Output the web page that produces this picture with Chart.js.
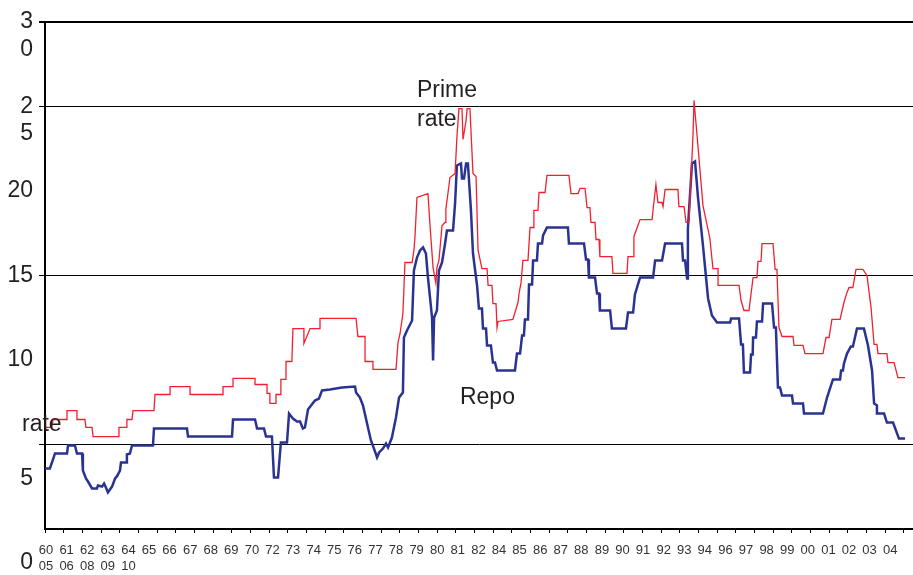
<!DOCTYPE html>
<html lang="en">
<head>
<meta charset="UTF-8">
<title>Prime rate and Repo rate</title>
<script src="https://cdn.jsdelivr.net/npm/chart.js"></script>
<style>
  body { margin: 0; background: #fff; }
  #wrap { width: 913px; height: 575px; }
</style>
</head>
<body>
<div id="wrap"><canvas id="rateChart"></canvas></div>
<script>
// x tick labels as printed under the axis (second row only under the first five)
const yearLabels = ['60','61','62','63','64','65','66','67','68','69','70','72','73','74','75','76','77','78','79','80','81',
                    '82','84','85','86','87','88','89','90','91','92','93','94','96','97','98','99','00','01','02','03','04'];
const yearLabels2 = ['05','06','08','09','10'];

// prime rate (x in label steps, y in %)
const primeX = [
  -0.49,-0.15,-0.10,0.59,0.59,1.08,1.08,1.47,1.52,1.82,
  1.87,3.14,3.14,3.49,3.53,3.78,3.83,4.86,4.91,5.65,
  5.65,6.63,6.63,8.25,8.25,8.74,8.74,9.82,9.82,10.41,
  10.41,10.55,10.55,10.85,10.85,11.09,11.09,11.34,11.34,11.63,
  11.68,12.22,12.22,12.52,13.01,13.01,14.78,14.87,15.22,15.22,
  15.61,15.61,16.74,16.84,16.94,17.08,17.18,17.53,17.62,17.67,
  17.77,18.31,18.41,18.56,18.70,18.75,18.85,19.00,19.15,19.19,
  19.29,19.39,19.64,19.73,19.83,19.98,20.03,20.18,20.23,20.37,
  20.52,20.67,20.77,20.96,21.21,21.26,21.45,21.50,21.65,21.70,
  21.75,22.48,22.58,22.73,22.78,22.88,22.97,23.22,23.32,23.47,
  23.51,23.71,23.76,24.06,24.15,25.23,25.33,25.68,25.77,26.02,
  26.12,26.26,26.31,26.51,26.56,26.71,26.75,27.34,27.39,28.08,
  28.13,28.38,28.42,28.72,29.31,29.40,29.50,29.60,29.80,29.85,
  29.95,30.58,30.63,30.88,30.98,31.12,31.32,31.37,31.52,31.81,
  32.15,32.30,32.55,32.55,33.58,33.68,33.82,34.07,34.17,34.27,
  34.46,34.51,34.66,34.71,35.25,35.35,35.44,35.54,35.69,36.23,
  36.28,36.72,36.82,37.70,37.85,38.00,38.14,38.54,38.64,38.73,
  38.88,38.98,39.17,39.32,39.66,39.86,40.06,40.21,40.35,40.40,
  40.84,40.89,41.19,41.38,41.73
];
const primeY = [
  6.01,6.01,6.48,6.48,7.01,7.01,6.48,6.48,6.01,6.01,
  5.47,5.47,6.01,6.01,6.48,6.48,7.01,7.01,7.96,7.96,
  8.43,8.43,7.96,7.96,8.43,8.43,8.91,8.91,8.55,8.55,
  8.02,8.02,7.43,7.43,7.96,7.96,8.85,8.85,9.91,9.91,
  11.86,11.86,10.98,11.86,11.86,12.46,12.46,11.39,11.39,9.91,
  9.91,9.44,9.44,11.04,11.57,12.75,15.77,15.77,16.48,17.25,
  19.62,19.85,17.96,15.47,14.53,15.47,15.89,17.96,18.14,18.96,
  19.85,20.80,21.04,23.17,24.88,24.88,23.05,24.17,24.88,24.88,
  21.04,20.86,16.48,15.41,15.41,14.41,14.41,13.34,13.34,11.92,
  12.28,12.40,12.81,13.40,13.93,14.59,15.89,15.89,17.84,17.84,
  18.85,18.85,19.91,19.91,20.92,20.92,19.85,19.85,20.15,20.15,
  19.02,19.02,18.14,18.14,17.13,17.13,16.12,16.12,15.12,15.12,
  16.12,16.12,17.31,18.31,18.31,19.32,20.38,19.32,19.32,19.08,
  20.09,20.09,19.08,19.08,18.14,18.14,23.28,25.36,23.28,19.14,
  17.19,15.41,15.41,14.41,14.41,13.52,12.93,12.93,13.93,14.88,
  14.88,15.83,15.83,16.89,16.89,15.36,15.36,11.92,11.39,11.39,
  10.86,10.86,10.38,10.38,11.33,11.33,12.40,12.40,12.93,13.40,
  14.00,14.29,14.29,15.36,15.36,15.00,13.11,10.92,10.92,10.38,
  10.38,9.85,9.85,8.96,8.96
];

// repo rate
const repoX = [
  -0.49,-0.25,-0.10,0,0.59,0.64,0.98,1.08,1.33,1.37,
  1.52,1.62,1.82,2.06,2.11,2.31,2.41,2.50,2.60,2.80,
  2.95,3.04,3.19,3.24,3.49,3.53,3.68,3.78,4.81,4.86,
  6.48,6.53,8.69,8.74,9.82,9.92,10.26,10.36,10.65,10.75,
  10.95,11.09,11.39,11.49,11.68,11.88,12.03,12.17,12.27,12.42,
  12.76,12.96,13.11,13.50,14.09,14.73,14.78,14.97,15.12,15.32,
  15.51,15.66,15.81,15.91,16.10,16.25,16.35,16.54,16.74,16.89,
  17.08,17.13,17.28,17.53,17.62,17.77,17.92,18.07,18.21,18.31,
  18.41,18.51,18.56,18.61,18.75,18.85,19.00,19.15,19.24,19.54,
  19.64,19.73,19.93,19.98,20.08,20.18,20.27,20.42,20.52,20.72,
  20.81,20.96,21.01,21.16,21.21,21.40,21.50,21.60,21.70,22.58,
  22.68,22.83,22.93,23.02,23.07,23.22,23.27,23.42,23.47,23.66,
  23.71,23.91,23.96,24.15,25.18,25.23,25.97,26.07,26.17,26.21,
  26.51,26.61,26.71,26.75,27.25,27.34,28.03,28.13,28.38,28.47,
  28.72,29.36,29.46,29.80,29.95,30.78,30.83,30.93,31.03,31.07,
  31.27,31.42,31.57,31.81,32.06,32.25,32.50,33.14,33.19,33.58,
  33.68,33.77,33.82,34.12,34.17,34.25,34.27,34.41,34.46,34.71,
  34.76,35.20,35.30,35.39,35.49,35.59,35.69,36.18,36.23,36.72,
  36.77,37.70,37.90,38.19,38.54,38.59,38.68,38.73,38.88,39.07,
  39.17,39.37,39.71,39.91,40.11,40.21,40.35,40.35,40.70,40.84,
  41.14,41.43,41.73
];
const repoY = [
  3.58,3.58,4.11,4.47,4.47,4.94,4.94,4.47,4.47,3.46,
  2.99,2.81,2.40,2.40,2.57,2.51,2.69,2.46,2.16,2.51,
  2.99,3.11,3.46,3.93,3.93,4.41,4.47,4.94,4.94,5.95,
  5.95,5.47,5.47,6.48,6.48,5.95,5.95,5.47,5.47,3.05,
  3.05,5.12,5.12,6.83,6.54,6.36,6.36,5.95,6.01,7.07,
  7.60,7.72,8.20,8.25,8.37,8.43,8.08,7.78,7.31,6.24,
  5.24,4.76,4.23,4.53,4.76,5.06,4.82,5.41,6.60,7.78,
  8.08,11.33,11.75,12.34,15.30,16.06,16.48,16.66,16.30,14.88,
  13.70,12.51,9.97,12.51,12.93,15.30,15.77,16.89,17.66,17.66,
  19.26,21.51,21.63,20.74,20.74,21.63,21.63,18.85,16.30,14.41,
  13.05,13.05,11.86,11.86,10.86,10.86,9.85,9.85,9.38,9.38,
  10.38,10.38,11.45,11.45,12.40,12.40,14.47,14.47,15.89,15.89,
  16.89,16.89,17.37,17.84,17.84,16.89,16.89,15.95,15.95,14.88,
  14.88,13.93,13.93,12.93,12.93,11.86,11.86,12.81,12.81,13.88,
  14.88,14.88,15.89,15.89,16.89,16.89,15.89,15.89,14.82,17.78,
  21.63,21.75,19.56,16.77,13.64,12.63,12.22,12.22,12.46,12.46,
  10.92,10.92,9.26,9.26,10.33,10.33,11.33,11.33,12.28,12.28,
  13.34,13.34,11.92,11.92,8.37,8.37,7.90,7.90,7.43,7.43,
  6.83,6.83,7.78,8.85,8.85,9.38,9.38,9.79,10.38,10.80,
  10.80,11.86,11.86,10.86,9.38,7.43,7.31,6.83,6.83,6.30,
  6.30,5.35,5.35
];

const yTicks = [0, 5, 10, 15, 20, 25, 30];
const gridValues = [5, 15, 25, 30];   // only these get a horizontal line

const FONT = "'Liberation Sans', Arial, sans-serif";

const notesPlugin = {
    id: 'notes',
    afterDraw(chart, args, opts) {
        const { ctx, scales: { x, y } } = chart;
        ctx.save();
        ctx.font = '23px ' + FONT;
        ctx.fillStyle = '#231f20';
        ctx.textBaseline = 'middle';
        ctx.textAlign = 'left';
        opts.items.forEach(n => {
            ctx.fillText(n.text, x.getPixelForValue(n.x), y.getPixelForValue(n.y));
        });
        ctx.restore();
    }
};

new Chart(document.getElementById('rateChart'), {
    type: 'line',
    data: {
        datasets: [
            {
                label: 'Prime rate',
                data: primeX.map((x, i) => ({ x: x, y: primeY[i] })),
                borderColor: '#f2202e',
                borderWidth: 1.3,
                pointRadius: 0,
                tension: 0,
                xAxisID: 'x',
                yAxisID: 'y'
            },
            {
                label: 'Repo rate',
                data: repoX.map((x, i) => ({ x: x, y: repoY[i] })),
                borderColor: '#2a3392',
                borderWidth: 2.5,
                pointRadius: 0,
                tension: 0,
                xAxisID: 'x',
                yAxisID: 'y'
            }
        ]
    },
    options: {
        responsive: true,
        maintainAspectRatio: false,
        animation: false,
        layout: { padding: { left: 0, top: 22, right: 0, bottom: 0 } },
        plugins: {
            legend: { display: false },
            tooltip: { enabled: false },
            notes: {
                items: [
                    { text: 'Prime', x: 17.77, y: 25.95 },
                    { text: 'rate', x: 17.77, y: 24.2 },
                    { text: 'Repo', x: 19.88, y: 7.78 },
                    { text: 'rate', x: -1.62, y: 6.15 }
                ]
            }
        },
        scales: {
            x: { type: 'linear', display: false, min: -0.49, max: 42.12 },
            xt: {
                type: 'linear', position: 'bottom', weight: 1, min: 0, max: 46.5,
                afterBuildTicks: s => { s.ticks = Array.from({ length: 47 }, (_, i) => ({ value: i })); },
                afterFit: s => { s.paddingLeft = 0; s.paddingRight = 0; },
                border: { display: true, color: '#000', width: 2 },
                grid: { drawOnChartArea: false, drawTicks: true, tickLength: 4, color: '#000', lineWidth: 1 },
                ticks: { display: false }
            },
            xl: {
                type: 'linear', position: 'bottom', weight: 2, min: -0.05, max: 42.11,
                afterBuildTicks: s => { s.ticks = yearLabels.map((_, i) => ({ value: i })); },
                afterFit: s => { s.height = 42; s.paddingLeft = 0; s.paddingRight = 0; },
                border: { display: false },
                grid: { display: false, drawTicks: false },
                ticks: {
                    padding: 10,
                    color: '#333',
                    autoSkip: false,
                    maxRotation: 0,
                    minRotation: 0,
                    font: { family: FONT, size: 13, lineHeight: 1.2 },
                    callback: (v, i) => yearLabels2[i] ? [yearLabels[i], yearLabels2[i]] : yearLabels[i]
                }
            },
            y: {
                min: 0, max: 30,
                afterBuildTicks: s => { s.ticks = yTicks.map(v => ({ value: v })); },
                afterFit: s => { s.width = 45; s.paddingTop = 0; s.paddingBottom = 0; },
                border: { display: true, color: '#000', width: 2 },
                grid: {
                    color: c => (c.tick && gridValues.includes(c.tick.value)) ? '#000' : 'rgba(0,0,0,0)',
                    lineWidth: c => (c.tick && c.tick.value === 30) ? 2 : 1,
                    drawTicks: true,
                    tickLength: 6
                },
                ticks: {
                    padding: 6,
                    color: '#231f20',
                    autoSkip: false,
                    font: c => ({
                        family: FONT,
                        size: 23,
                        lineHeight: (c.tick && c.tick.value <= 5) ? '68px' : 1.2
                    }),
                    callback: v => {
                        const s = String(v);
                        if (v >= 25) return ['', s[0], s[1]];   // printed split over two lines
                        if (v <= 5) return ['', s];             // printed a line lower
                        return s;
                    }
                }
            }
        }
    },
    plugins: [notesPlugin]
});
</script>
</body>
</html>
